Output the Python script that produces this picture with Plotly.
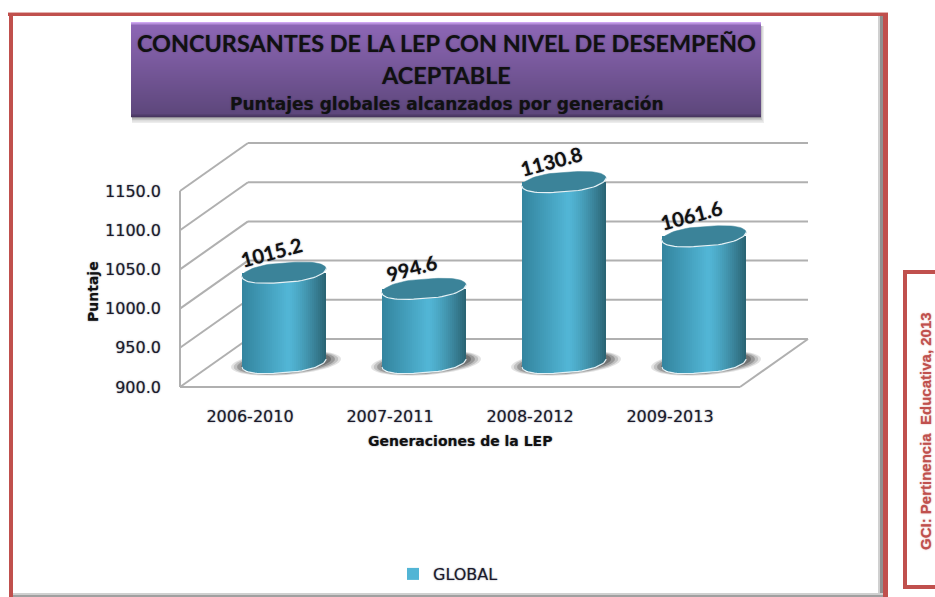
import math
import plotly.graph_objects as go

categories = ["2006-2010", "2007-2011", "2008-2012", "2009-2013"]
global_values = [1015.2, 994.6, 1130.8, 1061.6]
y_ticks = [900, 950, 1000, 1050, 1100, 1150]
y_tick_labels = ["900.0", "950.0", "1000.0", "1050.0", "1100.0", "1150.0"]
series_name = "GLOBAL"
title_line_1 = "CONCURSANTES DE LA LEP CON NIVEL DE DESEMPEÑO"
title_line_2 = "ACEPTABLE"
subtitle = "Puntajes globales alcanzados por generación"
x_title = "Generaciones de la LEP"
y_title = "Puntaje"
side_note = "GCI: Pertinencia  Educativa, 2013"

W, H = 935, 597
CAT = 140.0      # px per category
UNIT = 0.784     # px per score point
DX, DY = 68.0, 48.0  # depth of the box in px
A, B, SHEAR = 42.0, 9.8, 4.0  # cylinder ellipse
ROUND = 0.8      # <1 makes the ellipse ends blunter
PAD = 4
FRONT_L, FRONT_B = 180.0, 387.0
RED = "#c0504d"
GRID = "#b0b0b0"
TOP = "#3b8399"
SOFT = "0 0 1.5px rgba(20,20,50,0.55)"


def px(x):
    return x / W


def py(y):
    return 1 - y / H


x_range = [-0.5 - PAD / CAT, -0.5 + (DX + 560 + PAD) / CAT]
y_range = [900 - PAD / UNIT, 900 + (196 + DY + PAD) / UNIT]
dom_x = [px(FRONT_L - PAD), px(FRONT_L + 560 + DX + PAD)]
dom_y = [py(FRONT_B + PAD), py(FRONT_B - 196 - DY - PAD)]

XL, XR = -0.5, 3.5
ddx, ddy = DX / CAT, DY / UNIT
mdx, mdy = ddx / 2, ddy / 2

shapes = []


def seg(x0, y0, x1, y1, color=GRID, width=2):
    shapes.append(dict(type="line", xref="x", yref="y", x0=x0, y0=y0, x1=x1, y1=y1,
                       line=dict(color=color, width=width), layer="below"))


def rect(x0, y0, x1, y1, color):
    shapes.append(dict(type="rect", xref="paper", yref="paper", x0=px(x0), x1=px(x1),
                       y0=py(y1), y1=py(y0), line=dict(width=0), fillcolor=color, layer="below"))


def lerp(c0, c1, t):
    return "#%02x%02x%02x" % tuple(round(a + (b - a) * t) for a, b in zip(c0, c1))


def ell_u(t):
    c = math.cos(t)
    return math.copysign(abs(c) ** ROUND, c)


# outer frame
rect(0, 0, W, H, "#ffffff")
rect(878, 16, 883, 597, "#d0d0d0")
rect(880, 16, 883, 597, "#8f8f8f")
rect(12, 593, 883, 597, "#d0d0d0")
rect(12, 595, 883, 597, "#a0a0a0")
rect(8, 12, 888, 13, "#e3b0ae")
rect(8, 13, 888, 16, RED)
rect(9, 13, 13, 597, RED)
rect(883, 13, 888, 597, RED)
# side box
rect(903, 270, 935, 274, RED)
rect(903, 270, 907, 589, RED)
rect(903, 585, 935, 589, RED)

# title box with shadow and vertical gradient
BX0, BX1, BY0, BY1 = 131, 761, 22, 117
for i, col in enumerate(["#ececec", "#dcdcdc", "#c4c4c4", "#a8a8a8"]):
    rect(BX0 + 1, BY0 + 4, BX1 + 3 - i, BY1 + 6 - i * 1.5, col)
steps = BY1 - BY0
for i in range(steps):
    t = i / (steps - 1)
    if i < 4:
        col = lerp((0xcf, 0xa8, 0xf2), (0x8c, 0x66, 0xb4), i / 3)
    elif i >= steps - 3:
        col = lerp((0x5c, 0x46, 0x7a), (0x48, 0x36, 0x60), (i - steps + 4) / 3)
    else:
        col = lerp((0x8c, 0x66, 0xb4), (0x5c, 0x46, 0x7a), (t - 0.04) / 0.96)
    rect(BX0, BY0 + i, BX1, BY0 + i + 1.2, col)

# box walls and gridlines, from the y ticks
for v in y_ticks:
    seg(XL, v, XL + ddx, v + ddy)
    seg(XL + ddx, v + ddy, XR + ddx, v + ddy)
seg(XL, y_ticks[0], XL, y_ticks[-1])
seg(XL, y_ticks[0], XR, y_ticks[0])
seg(XR, y_ticks[0], XR + ddx, y_ticks[0] + ddy)

# soft floor shadows
base_y = y_ticks[0] + mdy
for i in range(len(categories)):
    cx = i + mdx
    for grow, alpha in [(1.0, 0.14), (0.95, 0.2), (0.89, 0.3), (0.82, 0.4)]:
        pts = []
        for k in range(48):
            t = 2 * math.pi * k / 48
            pts.append((cx + 2 / CAT + 55 * grow * math.cos(t) / CAT,
                        base_y + (4 * math.cos(t) - 12 * grow * math.sin(t)) / UNIT))
        path = "M " + " L ".join(f"{a:.4f} {b:.3f}" for a, b in pts) + " Z"
        shapes.append(dict(type="path", xref="x", yref="y", path=path, line=dict(width=0),
                           fillcolor=f"rgba(60,60,60,{alpha})", layer="below"))

fig = go.Figure()

# cylinder bodies: one bar trace per vertical slice
N = 42
for s in range(N):
    u = -1 + (2 * s + 1) / N
    if u < 0.1:
        col = lerp((0x33, 0x84, 0x9e), (0x52, 0xb6, 0xd6), (u + 1) / 1.1)
    else:
        col = lerp((0x52, 0xb6, 0xd6), (0x2a, 0x62, 0x72), ((u - 0.1) / 0.9) ** 1.3)
    cos_t = abs(u) ** (1 / ROUND)
    sin_t = math.sqrt(max(0, 1 - cos_t * cos_t))
    front = (SHEAR * math.copysign(cos_t, u) - B * sin_t) / UNIT
    xs = [i + mdx + u * A / CAT for i in range(len(categories))]
    bases = [base_y + front for _ in global_values]
    heights = [v - y_ticks[0] - front for v in global_values]
    fig.add_trace(go.Bar(x=xs, y=heights, base=bases, width=2.6 / CAT,
                         marker=dict(color=col, line=dict(width=0)),
                         name=series_name, showlegend=abs(u - 0.1) < 1 / N,
                         hoverinfo="skip"))

annotations = []
for i, v in enumerate(global_values):
    cx, cy = i + mdx, v + mdy
    ts = [2 * math.pi * k / 72 for k in range(73)]
    fig.add_trace(go.Scatter(
        x=[cx + A * ell_u(t) / CAT for t in ts],
        y=[cy + (SHEAR * math.cos(t) + B * math.sin(t)) / UNIT for t in ts],
        mode="lines", fill="toself", fillcolor=TOP, line=dict(color=TOP, width=0.5),
        showlegend=False, hoverinfo="skip"))
    # pale rim: top front edge and bottom front edge
    half = [math.pi + math.pi * k / 36 for k in range(37)]
    rim_x = [cx + A * ell_u(t) / CAT for t in half]
    rim_top = [cy + (SHEAR * math.cos(t) + B * math.sin(t)) / UNIT for t in half]
    rim_bot = [base_y + (SHEAR * math.cos(t) + B * math.sin(t)) / UNIT for t in half]
    fig.add_trace(go.Scatter(
        x=rim_x + [None] + rim_x, y=rim_top + [None] + rim_bot,
        mode="lines", line=dict(color="#e6f2f6", width=1.2),
        showlegend=False, hoverinfo="skip"))
    annotations.append(dict(x=cx, y=cy, xref="x", yref="y", xshift=-13, yshift=21,
                            text=f"<b>{v:.1f}</b>", showarrow=False, textangle=-15,
                            font=dict(family="Lato", size=20, color="#111111", shadow=SOFT)))


def label(x, y, text, family, size, color="#111111", angle=0, shadow=SOFT):
    annotations.append(dict(x=px(x), y=py(y), xref="paper", yref="paper", text=text,
                            showarrow=False, textangle=angle, xanchor="center", yanchor="middle",
                            font=dict(family=family, size=size, color=color, shadow=shadow)))


label(446, 43, f"<b>{title_line_1}</b>", "Lato", 23.4)
label(446, 75, f"<b>{title_line_2}</b>", "Lato", 23.4)
label(447, 104, f"<b>{subtitle}</b>", "DejaVu Sans", 17)
label(460, 441, f"<b>{x_title}</b>", "DejaVu Sans", 14)
label(93, 292, f"<b>{y_title}</b>", "DejaVu Sans", 14, angle=-90)
label(925, 431, f"<b>{side_note}</b>", "Liberation Sans", 15, color=RED, angle=-90,
      shadow="0 0 1.5px rgba(192,80,77,0.7)")

fig.update_layout(
    width=W, height=H, autosize=False,
    margin=dict(l=0, r=0, t=0, b=0, pad=0, autoexpand=False),
    paper_bgcolor="#ffffff", plot_bgcolor="rgba(0,0,0,0)",
    barmode="overlay", bargap=0, shapes=shapes, annotations=annotations,
    font=dict(family="DejaVu Sans", size=16, color="#1a1a2a", shadow=SOFT),
    showlegend=True,
    legend=dict(x=px(393), y=py(574), xanchor="left", yanchor="middle",
                bgcolor="rgba(0,0,0,0)", font=dict(family="DejaVu Sans", size=16)),
    xaxis=dict(domain=dom_x, range=x_range, tickmode="array",
               tickvals=list(range(len(categories))), ticktext=categories,
               showgrid=False, zeroline=False, showline=False, ticks="",
               ticklabelstandoff=14),
    yaxis=dict(domain=dom_y, range=y_range, tickmode="array", tickvals=y_ticks,
               ticktext=y_tick_labels, showgrid=False, zeroline=False, showline=False,
               ticks="", ticklabelstandoff=14),
)

fig.write_html("out.html", config={"displayModeBar": False},
               post_script="document.body.style.margin='0';document.body.style.overflow='hidden';")
